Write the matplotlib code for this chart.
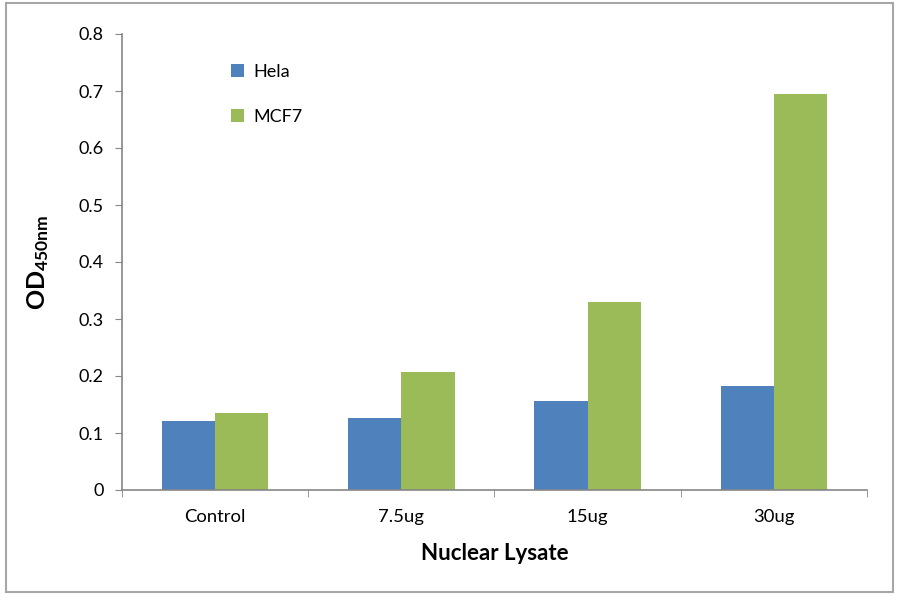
import matplotlib.pyplot as plt
import numpy as np
from matplotlib.patches import Rectangle

categories = ["Control", "7.5ug", "15ug", "30ug"]
hela = [0.121, 0.126, 0.156, 0.182]
mcf7 = [0.135, 0.207, 0.330, 0.695]
yticks = [0, 0.1, 0.2, 0.3, 0.4, 0.5, 0.6, 0.7, 0.8]

plt.rcParams['font.family'] = ['Lato', 'DejaVu Sans']
plt.rcParams['mathtext.fontset'] = 'custom'
plt.rcParams['mathtext.bf'] = 'Lato:bold'
axis_gray = "#868686"

fig = plt.figure(figsize=(9, 5.94), dpi=100)
# outer chart border
fig.patches.append(Rectangle((6 / 900, 2 / 594), 887 / 900, 589 / 594,
                             transform=fig.transFigure, fill=False,
                             edgecolor="#a6a6a6", linewidth=1.5))

ax = fig.add_axes([122 / 900, 1 - 490 / 594, 745 / 900, 456 / 594])

x = np.arange(len(categories))
w = 1 / 3.5
ax.bar(x - w / 2, hela, w, color="#4f81bd", label="Hela")
ax.bar(x + w / 2, mcf7, w, color="#9bbb59", label="MCF7")

ax.set_xlim(-0.5, len(categories) - 0.5)
ax.set_ylim(0, 0.8)
ax.set_yticks(yticks)
ax.set_yticklabels(["0"] + [f"{v:.1f}" for v in yticks[1:]])
ax.set_xticks(x)
ax.set_xticklabels(categories)
ax.set_xticks(np.arange(len(categories) + 1) - 0.5, minor=True)

for s in ["top", "right"]:
    ax.spines[s].set_visible(False)
for s in ["left", "bottom"]:
    ax.spines[s].set_color(axis_gray)
    ax.spines[s].set_linewidth(1.2)

ax.tick_params(axis="y", length=5, color=axis_gray, labelsize=13, pad=8)
ax.tick_params(axis="x", which="major", length=0, labelsize=13.3, pad=14)
ax.tick_params(axis="x", which="minor", length=5, color=axis_gray)

ax.set_xlabel("Nuclear Lysate", fontsize=16, fontweight="bold", labelpad=13)
ax.set_ylabel(r"$\mathbf{OD_{450nm}}$", fontsize=18, labelpad=20)

leg = ax.legend(loc="upper left", bbox_to_anchor=(0.125, 0.97), frameon=False,
                fontsize=13, handlelength=0.7, handleheight=0.7,
                handletextpad=0.5, labelspacing=1.6)

fig.savefig("out.png", dpi=100)
